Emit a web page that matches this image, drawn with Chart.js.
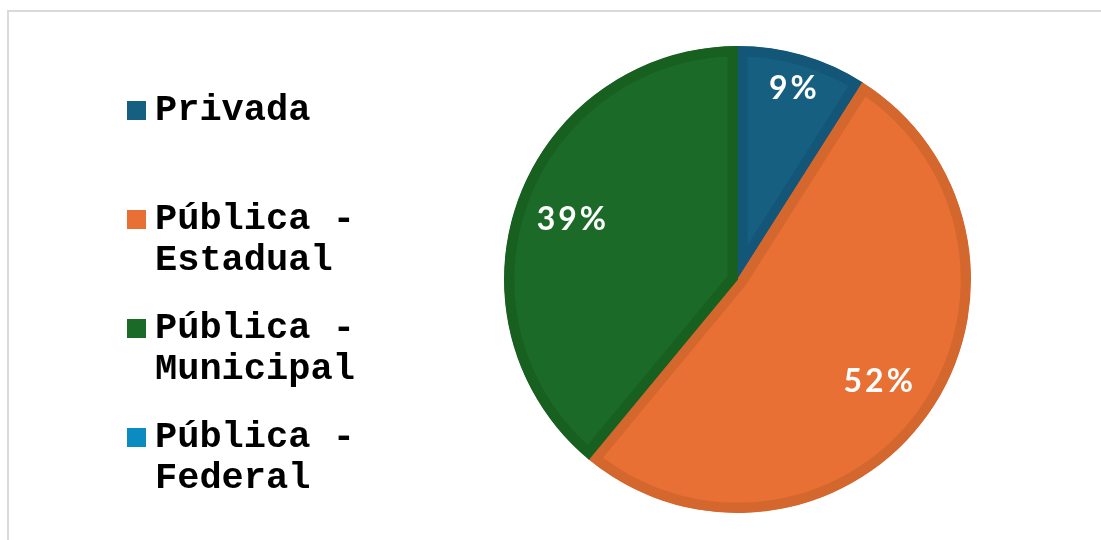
<!DOCTYPE html>
<html>
<head>
<meta charset="utf-8">
<script src="https://cdn.jsdelivr.net/npm/chart.js@4/dist/chart.umd.min.js"></script>
<style>
  html, body { margin: 0; padding: 0; background: #fff; overflow: hidden; }
  #wrap { position: relative; width: 1101px; height: 540px; }
  #frame { position: absolute; left: 7px; top: 10px; width: 1200px; height: 600px; border: 2px solid #dadada; box-sizing: border-box; }
  #c { position: absolute; left: 0; top: 0; }
  #legend { position: absolute; left: 127px; top: 90px; width: 240px; }
  .item { position: absolute; left: 0; width: 240px; }
  .sw { position: absolute; left: 0; top: 11px; width: 19px; height: 19px; }
  .tx { position: absolute; left: 28px; top: 0; width: 205px; font-family: "Liberation Mono", "Courier New", monospace; font-weight: bold; font-size: 37px; line-height: 41px; color: #000; white-space: normal; }
</style>
</head>
<body>
<div id="wrap">
  <div id="frame"></div>
  <canvas id="c" width="1101" height="540"></canvas>
  <div id="legend"></div>
</div>
<script>
const categories = ["Privada", "Pública - Estadual", "Pública - Municipal", "Pública - Federal"];
const shares = [9, 52, 39, 0];
const fillColors = ["#175f80", "#e87034", "#1b6a27", "#0c8bc1"];
const edgeColors = ["#135677", "#d4672e", "#18601f", "#0a7dae"];
const labelRadius = [0.85, 0.745, 0.756, 0.75];

const sliceLabels = {
  id: 'sliceLabels',
  afterDatasetsDraw(chart) {
    const ctx = chart.ctx;
    const meta = chart.getDatasetMeta(0);
    ctx.save();
    ctx.fillStyle = '#ffffff';
    ctx.font = 'bold 32px Lato';
    ctx.letterSpacing = '3px';
    ctx.textAlign = 'center';
    ctx.textBaseline = 'middle';
    meta.data.forEach((arc, i) => {
      const v = shares[i];
      if (!v) return;
      const p = arc.getProps(['x', 'y', 'startAngle', 'endAngle', 'outerRadius'], true);
      const mid = (p.startAngle + p.endAngle) / 2;
      const r = p.outerRadius * labelRadius[i];
      ctx.fillText(v + '%', p.x + Math.cos(mid) * r + 1.5, p.y + Math.sin(mid) * r);
    });
    ctx.restore();
  }
};

const chart = new Chart(document.getElementById('c'), {
  type: 'pie',
  data: {
    labels: categories,
    datasets: [{
      data: shares,
      backgroundColor: fillColors,
      borderColor: edgeColors,
      borderWidth: 10,
      borderAlign: 'inner',
      hoverBorderWidth: 10
    }]
  },
  options: {
    responsive: false,
    animation: false,
    layout: { padding: { left: 504, right: 130, top: 46, bottom: 27 } },
    plugins: {
      legend: { display: false },
      tooltip: { enabled: false }
    },
    events: []
  },
  plugins: [sliceLabels]
});

// HTML legend built from the chart's own legend items
const legendEl = document.getElementById('legend');
const items = chart.options.plugins.legend.labels.generateLabels(chart);
items.forEach((it, i) => {
  const d = document.createElement('div');
  d.className = 'item';
  d.style.top = (i * 109) + 'px';
  const sw = document.createElement('div');
  sw.className = 'sw';
  sw.style.background = fillColors[it.index];
  const tx = document.createElement('div');
  tx.className = 'tx';
  tx.textContent = it.text;
  d.appendChild(sw);
  d.appendChild(tx);
  legendEl.appendChild(d);
});
</script>
</body>
</html>
